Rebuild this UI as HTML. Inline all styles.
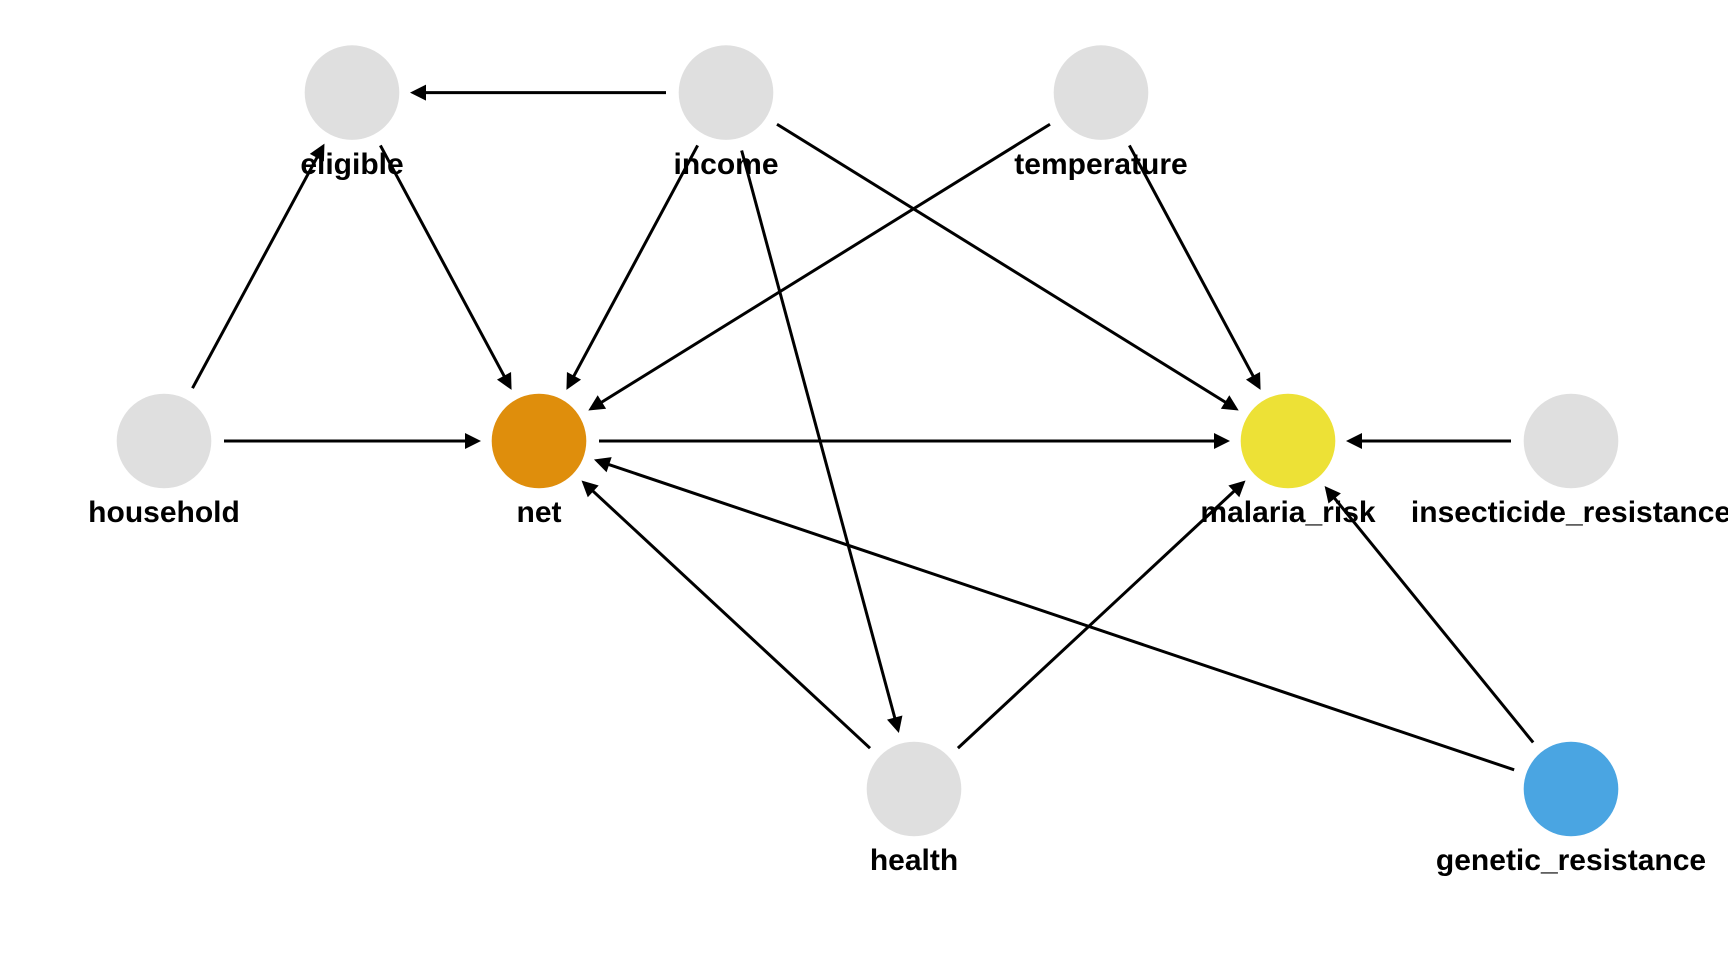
<!DOCTYPE html>
<html><head><meta charset="utf-8"><style>
html,body{margin:0;padding:0;background:#fff;}
svg{display:block;}
text{font-family:"Liberation Sans",Arial,sans-serif;font-weight:bold;font-size:30px;text-anchor:middle;fill:#000;}
</style></head><body>
<svg id="s" width="1728" height="960" viewBox="0 0 1728 960" xmlns="http://www.w3.org/2000/svg">
<g id="nodes">
<circle cx="352" cy="92.6" r="47.3" fill="#dfdfdf"/>
<circle cx="726" cy="92.6" r="47.3" fill="#dfdfdf"/>
<circle cx="1101" cy="92.6" r="47.3" fill="#dfdfdf"/>
<circle cx="164" cy="441" r="47.3" fill="#dfdfdf"/>
<circle cx="539" cy="441" r="47.3" fill="#df8e0c"/>
<circle cx="1288" cy="441" r="47.3" fill="#ede136"/>
<circle cx="1571" cy="441" r="47.3" fill="#dfdfdf"/>
<circle cx="914" cy="789" r="47.3" fill="#dfdfdf"/>
<circle cx="1571" cy="789" r="47.3" fill="#4aa5e2"/>
</g>
<g id="edges"></g>
<g id="labels">
<text x="352" y="174">eligible</text>
<text x="726" y="174">income</text>
<text x="1101" y="174">temperature</text>
<text x="164" y="522">household</text>
<text x="539" y="522">net</text>
<text x="1288" y="522">malaria_risk</text>
<text x="1571" y="522">insecticide_resistance</text>
<text x="914" y="870">health</text>
<text x="1571" y="870">genetic_resistance</text>
</g>
</svg>
<script>
var N={eligible:[352,92.6],income:[726,92.6],temperature:[1101,92.6],household:[164,441],net:[539,441],malaria:[1288,441],insect:[1571,441],health:[914,789],genetic:[1571,789]};
var E=[["income","eligible"],["household","eligible"],["eligible","net"],["household","net"],["income","net"],["temperature","net"],["income","malaria"],["income","health"],["temperature","malaria"],["net","malaria"],["insect","malaria"],["health","net"],["health","malaria"],["genetic","net"],["genetic","malaria"]];
var g=document.getElementById("edges"),h="";
E.forEach(function(e){var a=N[e[0]],b=N[e[1]];var dx=b[0]-a[0],dy=b[1]-a[1],L=Math.hypot(dx,dy),ux=dx/L,uy=dy/L;
var sx=a[0]+ux*60,sy=a[1]+uy*60,tx=b[0]-ux*58,ty=b[1]-uy*58;
var bx=tx-ux*16,by=ty-uy*16,px=-uy*8,py=ux*8;
h+='<line x1="'+sx+'" y1="'+sy+'" x2="'+(bx+ux*3)+'" y2="'+(by+uy*3)+'" stroke="#000" stroke-width="3"/>';
h+='<polygon points="'+tx+','+ty+' '+(bx+px)+','+(by+py)+' '+(bx-px)+','+(by-py)+'" fill="#000"/>';});
g.innerHTML=h;
</script>
</body></html>
